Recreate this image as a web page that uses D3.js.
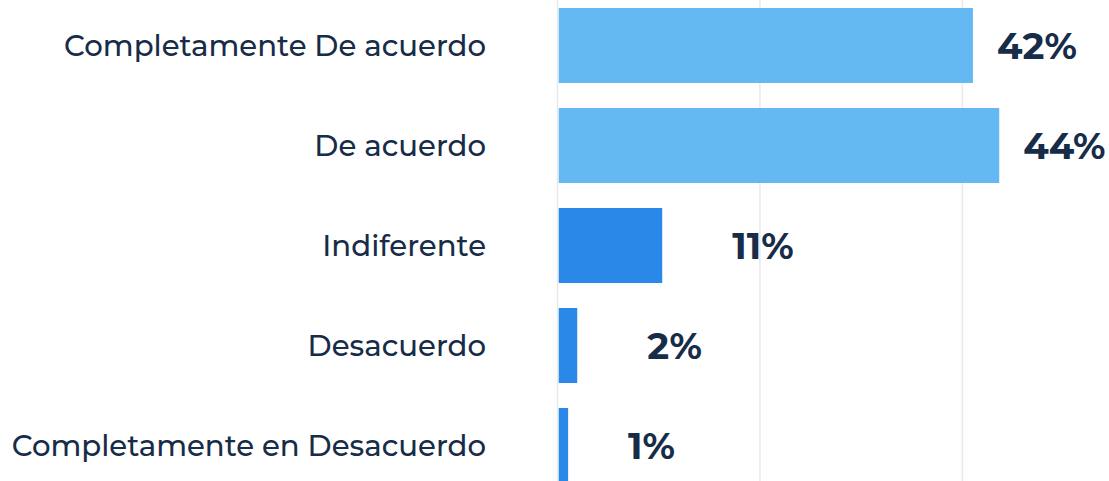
<!DOCTYPE html>
<html>
<head>
<meta charset="utf-8">
<script src="https://cdn.jsdelivr.net/npm/d3@7"></script>
<style>
	html, body { margin: 0; padding: 0; background: #ffffff; }
	svg { display: block; }
</style>
</head>
<body>
<div id="chart"></div>
<script>
// categories, top to bottom
var categories = [
	"Completamente De acuerdo",
	"De acuerdo",
	"Indiferente",
	"Desacuerdo",
	"Completamente en Desacuerdo"
];
// bar lengths (percent)
var values = [41.0, 43.6, 10.3, 1.9, 1.0];
// printed value labels
var valueLabels = ["42%", "44%", "11%", "2%", "1%"];
// which colour group each bar belongs to
var groups = ["agree", "agree", "other", "other", "other"];
// gridline ticks
var gridTicks = [0, 20, 40];

var width = 1109;
var height = 481;

var colors = { agree: "#64b9f2", other: "#2a89e8" };
var textColor = "#172c48";
var gridColor = "#e9e9e9";

var x = d3.scaleLinear()
	.domain([0, 50])
	.range([558, 1064]);

var y = d3.scaleBand()
	.domain(categories)
	.range([-4.5, 495.5])
	.paddingInner(0.25)
	.paddingOuter(0.125);

var svg = d3.select("#chart")
	.append("svg")
	.attr("width", width)
	.attr("height", height);

// gridlines (the zero line doubles as the axis)
svg.selectAll("line.grid")
	.data(gridTicks)
	.enter()
	.append("line")
	.attr("class", "grid")
	.attr("x1", function(d) { return x(d) - 0.5; })
	.attr("x2", function(d) { return x(d) - 0.5; })
	.attr("y1", 0)
	.attr("y2", height)
	.attr("stroke", gridColor)
	.attr("stroke-width", 1.5);

// bars
svg.selectAll("rect.bar")
	.data(values)
	.enter()
	.append("rect")
	.attr("class", "bar")
	.attr("x", x(0) + 0.7)
	.attr("y", function(d, i) { return y(categories[i]); })
	.attr("width", function(d) { return x(d) - x(0) - 0.7; })
	.attr("height", y.bandwidth())
	.attr("fill", function(d, i) { return colors[groups[i]]; });

// category labels
svg.selectAll("text.cat")
	.data(categories)
	.enter()
	.append("text")
	.attr("class", "cat")
	.attr("x", 486)
	.attr("y", function(d) { return y(d) + y.bandwidth() / 2; })
	.attr("dy", "0.36em")
	.attr("text-anchor", "end")
	.attr("font-family", "Montserrat, 'DejaVu Sans', sans-serif")
	.attr("font-weight", 500)
	.attr("font-size", 29.2)
	.attr("fill", textColor)
	.text(function(d) { return d; });

// value labels, short bars get a wider gap
svg.selectAll("text.val")
	.data(values)
	.enter()
	.append("text")
	.attr("class", "val")
	.attr("x", function(d) { return x(d) + (d > 20 ? 24 : d > 1.5 ? 70 : 60); })
	.attr("y", function(d, i) { return y(categories[i]) + y.bandwidth() / 2; })
	.attr("dy", "0.36em")
	.attr("font-family", "Montserrat, 'DejaVu Sans', sans-serif")
	.attr("font-weight", "bold")
	.attr("font-size", 37)
	.attr("fill", textColor)
	.text(function(d, i) { return valueLabels[i]; });
</script>
</body>
</html>
